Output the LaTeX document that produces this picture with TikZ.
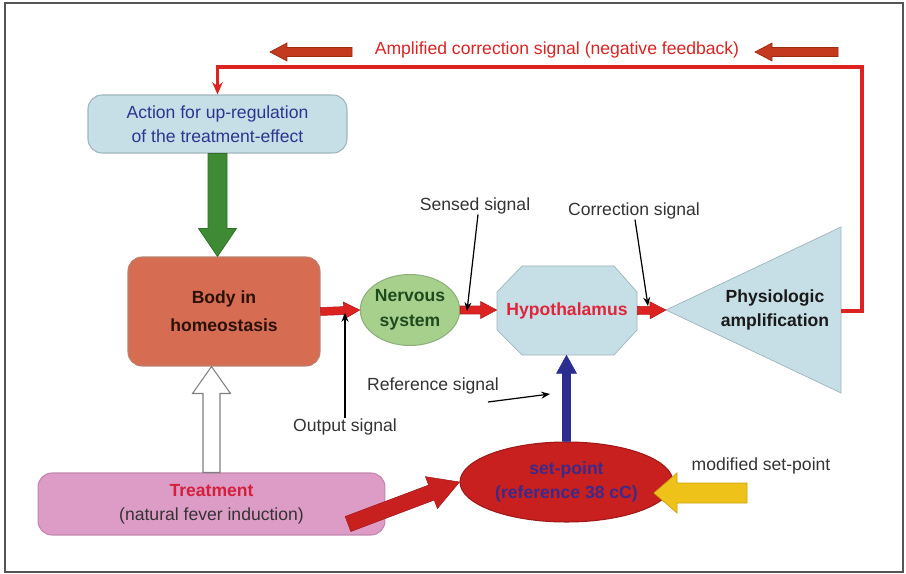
\documentclass[tikz,border=0pt]{standalone}
\usepackage{fontspec}
\setmainfont{Liberation Sans}
\usetikzlibrary{calc,arrows.meta,shapes.geometric}
\definecolor{framec}{HTML}{555555}
\definecolor{lblue}{HTML}{C6DEE6}
\definecolor{lblued}{HTML}{9FB5BD}
\definecolor{bodyc}{HTML}{D66C52}
\definecolor{bodyd}{HTML}{B9826F}
\definecolor{nervc}{HTML}{A8D08D}
\definecolor{nervd}{HTML}{8BB07A}
\definecolor{spc}{HTML}{C8201F}
\definecolor{spd}{HTML}{A01818}
\definecolor{treatc}{HTML}{DD9CC6}
\definecolor{treatd}{HTML}{C286AE}
\definecolor{redl}{HTML}{DD2222}
\definecolor{brick}{HTML}{C43A1E}
\definecolor{brickd}{HTML}{9E2A14}
\definecolor{greenc}{HTML}{3E8A35}
\definecolor{greend}{HTML}{2F6D28}
\definecolor{bluec}{HTML}{2B2E8F}
\definecolor{acttxt}{HTML}{2C3590}
\definecolor{yellowc}{HTML}{EFC21A}
\definecolor{yellowd}{HTML}{C9A012}
\definecolor{txtgray}{HTML}{333333}
\newcommand\fatarrow[6]{%
  \path ($(#3)!#6!(#2)$) coordinate (fa-h);
  \path[#1] ($(#2)!#4!90:(#3)$) -- ($(fa-h)!#4!-90:(#2)$) -- ($(fa-h)!#5!-90:(#2)$) -- (#3) -- ($(fa-h)!#5!90:(#2)$) -- ($(fa-h)!#4!90:(#2)$) -- ($(#2)!#4!-90:(#3)$) -- cycle;}
\tikzset{
  every node/.style={font=\fontsize{10}{13.6}\selectfont, inner sep=0pt, align=center},
  rbox/.style={draw=#1, line width=0.6pt, rounded corners=0.28cm},
  lbl/.style={text=txtgray},
  ann/.style={draw=black, line width=0.7pt, -{Stealth[length=5pt,width=4pt]}},
  smallred/.style={fill=redl, draw=redl!80!black, line width=0.3pt},
  fb/.style={draw=redl, line width=1.8pt, -{Stealth[length=7pt,width=6pt]}},
}
\begin{document}
\begin{tikzpicture}[x=0.02cm,y=-0.02cm]
\useasboundingbox (0,0) rectangle (906,574);
\draw[framec, line width=1.2pt] (5,3) rectangle (903,572);

% nodes
\node[rbox=lblued, fill=lblue, minimum width=5.18cm, minimum height=1.16cm, text=acttxt, font=\fontsize{10}{13.6}\selectfont] (act) at (217.5,124) {Action for up-regulation\\of the treatment-effect};
\node[rbox=bodyd, fill=bodyc, minimum width=3.84cm, minimum height=2.18cm, text={rgb,255:red,42;green,18;blue,8}, font=\bfseries\fontsize{10}{16}\selectfont] (body) at (224,311.5) {Body in\\homeostasis};
\node[ellipse, draw=nervd, fill=nervc, line width=0.6pt, minimum width=1.9cm, minimum height=1.42cm, text={rgb,255:red,30;green,74;blue,30}, font=\bfseries\fontsize{10}{14}\selectfont] (nerv) at (410,310) {Nervous\\system};

\fill[lblue, draw=lblued, line width=0.4pt] (522,266) -- (614,266) -- (637,292) -- (637,330) -- (614,355) -- (522,355) -- (497,330) -- (497,292) -- cycle;
\node[minimum width=2.8cm, minimum height=1.78cm, text={rgb,255:red,224;green,36;blue,58}, font=\bfseries\fontsize{10}{13}\selectfont] (hyp) at (567,310.5) {Hypothalamus};

\fill[lblue, draw=lblued, line width=0.4pt] (666,310) -- (841,227) -- (841,393) -- cycle;
\coordinate (amptip) at (666,310);
\coordinate (ampr) at (841,311);
\node[font=\bfseries\fontsize{10}{14}\selectfont, text={rgb,255:red,26;green,26;blue,26}] (amp) at (775,310) {Physiologic\\amplification};

\node[ellipse, draw=spd, fill=spc, line width=0.6pt, minimum width=4.26cm, minimum height=1.6cm, text={rgb,255:red,60;green,42;blue,138}, font=\bfseries\fontsize{10}{13.5}\selectfont] (sp) at (566.5,482) {set-point\\(reference 38 cC)};

\node[rbox=treatd, fill=treatc, minimum width=6.94cm, minimum height=1.24cm, font=\fontsize{10}{13.6}\selectfont, text=txtgray] (treat) at (211.5,504) {\textcolor[HTML]{D4203C}{\bfseries Treatment}\\(natural fever induction)};

% labels
\node[lbl] (lsensed) at (475,206) {Sensed signal};
\node[lbl] (lcorr) at (634,211) {Correction signal};
\node[lbl] (lout) at (345,427) {Output signal};
\node[lbl] (lref) at (433,386) {Reference signal};
\node[lbl] (lmod) at (761,466) {modified set-point};
\node[text=redl] (lamp) at (557,50) {Amplified correction signal (negative feedback)};

% feedback line
\draw[fb] (ampr) -| (862,67) -| (act.north);

% top brick arrows
\coordinate (ta1s) at (352,52); \coordinate (ta1e) at (270,52);
\coordinate (ta2s) at (838,52); \coordinate (ta2e) at (755,52);
\fatarrow{fill=brick, draw=brickd, line width=0.4pt}{ta1s}{ta1e}{0.09cm}{0.18cm}{0.34cm}
\fatarrow{fill=brick, draw=brickd, line width=0.4pt}{ta2s}{ta2e}{0.09cm}{0.18cm}{0.34cm}

% green arrow
\coordinate (gs) at (act.south);
\coordinate (ge) at (act.south |- body.north);
\fatarrow{fill=greenc, draw=greend, line width=0.4pt}{gs}{ge}{0.19cm}{0.38cm}{0.56cm}

% hollow white arrow
\coordinate (ws) at (treat.north);
\coordinate (we) at (treat.north |- body.south);
\fatarrow{fill=white, draw=gray, line width=0.6pt}{ws}{we}{0.17cm}{0.38cm}{0.54cm}

% red small arrows
\coordinate (r1s) at (body.east); \coordinate (r1e) at (nerv.west);
\fatarrow{smallred}{r1s}{r1e}{0.08cm}{0.17cm}{0.32cm}
\coordinate (r2s) at (nerv.east); \coordinate (r2e) at (nerv.east -| hyp.west);
\fatarrow{smallred}{r2s}{r2e}{0.08cm}{0.17cm}{0.32cm}
\coordinate (r3s) at (hyp.east); \coordinate (r3e) at (amptip);
\fatarrow{smallred}{r3s}{r3e}{0.08cm}{0.17cm}{0.32cm}

% blue arrow
\coordinate (bs) at (sp.north); \coordinate (be) at (sp.north |- hyp.south);
\fatarrow{fill=bluec, draw=bluec, line width=0.3pt}{bs}{be}{0.08cm}{0.2cm}{0.36cm}

% red treatment arrow
\coordinate (ts) at (348,524);
\coordinate (te) at (sp.west);
\fatarrow{fill=spc, draw=spd, line width=0.3pt}{ts}{te}{0.16cm}{0.34cm}{0.6cm}

% yellow arrow
\coordinate (ys) at (747,493); \coordinate (ye) at (654,493);
\fatarrow{fill=yellowc, draw=yellowd, line width=0.4pt}{ys}{ye}{0.2cm}{0.4cm}{0.46cm}

% annotation pointers
\coordinate (ao) at (345,313);
\draw[ann] (lout.north) -- (ao);
\coordinate (as) at (467,311);
\draw[ann] (lsensed.south) ++(3,0) -- (as);
\coordinate (ac) at (648,306);
\draw[ann] (lcorr.south) ++(1,0) -- (ac);
\coordinate (ar) at (550,394);
\draw[ann] (488,402) coordinate (arst) -- (ar);
\end{tikzpicture}
\end{document}
